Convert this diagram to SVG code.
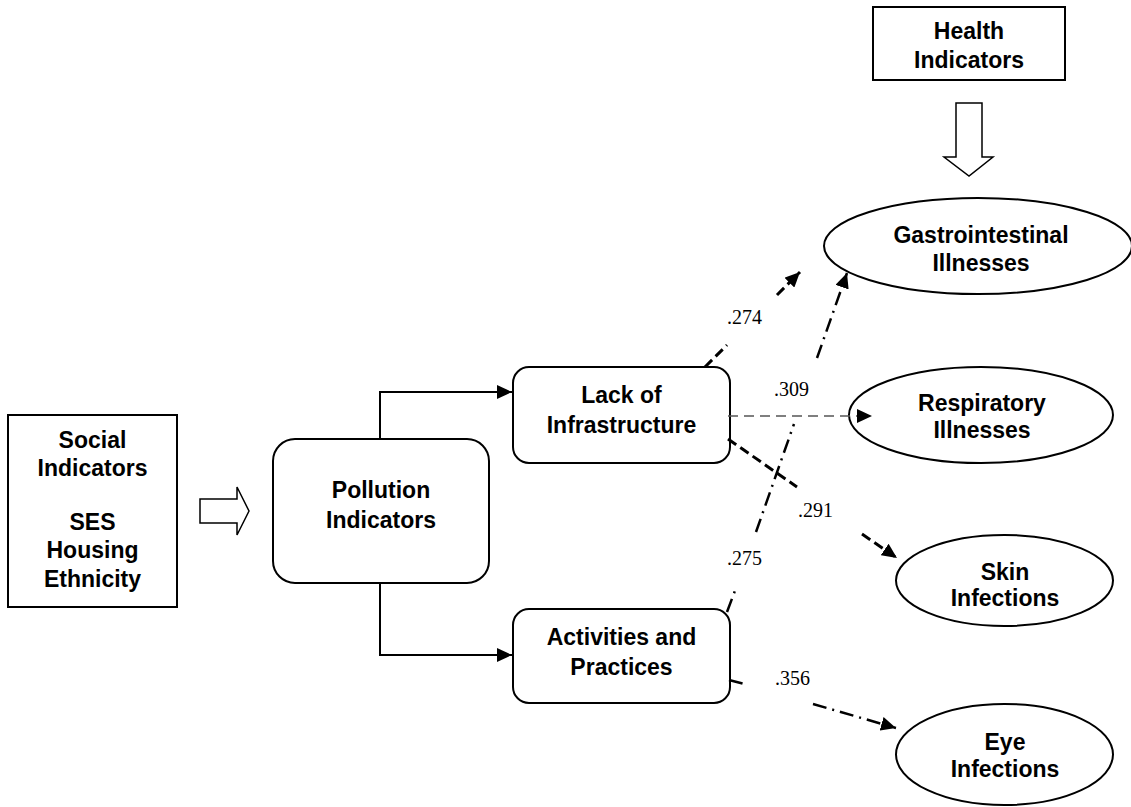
<svg xmlns="http://www.w3.org/2000/svg" width="1131" height="807" viewBox="0 0 1131 807">
<style>
  .box{fill:#fff;stroke:#000;stroke-width:2}
  .lbl{font-family:"Liberation Sans",Arial,sans-serif;font-weight:bold;font-size:23px;fill:#000;text-anchor:middle}
  .num{font-family:"Liberation Serif","Times New Roman",serif;font-size:20px;fill:#000}
  .hollow{fill:#fff;stroke:#000;stroke-width:1.5;stroke-linejoin:miter}
  .solid{fill:none;stroke:#000;stroke-width:2}
  .dash{fill:none;stroke:#000;stroke-width:3;stroke-dasharray:10,5}
  .dashdot{fill:none;stroke:#000;stroke-width:2.5;stroke-dasharray:14,6,2,6}
  .thin{fill:none;stroke:#555;stroke-width:1.3;stroke-dasharray:10,6}
</style>
<defs>
  <marker id="ah" markerUnits="userSpaceOnUse" markerWidth="16" markerHeight="14" refX="15" refY="7" orient="auto">
    <path d="M0,0 L15,7 L0,14 z" fill="#000"/>
  </marker>
</defs>
<rect width="1131" height="807" fill="#fff"/>

<g id="social">
  <rect class="box" x="8" y="415" width="169" height="192"/>
  <text class="lbl" x="92.5" y="448">Social</text>
  <text class="lbl" x="92.5" y="476">Indicators</text>
  <text class="lbl" x="92.5" y="530">SES</text>
  <text class="lbl" x="92.5" y="558">Housing</text>
  <text class="lbl" x="92.5" y="587">Ethnicity</text>
</g>

<g id="social-arrow">
  <polygon class="hollow" points="200,499 237,499 237,487 249,511 237,535 237,523 200,523"/>
</g>

<g id="pollution">
  <rect class="box" x="273" y="439" width="216" height="144" rx="22" ry="22"/>
  <text class="lbl" x="381" y="498">Pollution</text>
  <text class="lbl" x="381" y="528">Indicators</text>
</g>

<g id="lack">
  <rect class="box" x="513" y="367" width="217" height="96" rx="16" ry="16"/>
  <text class="lbl" x="621.5" y="403">Lack of</text>
  <text class="lbl" x="621.5" y="433">Infrastructure</text>
</g>

<g id="activities">
  <rect class="box" x="513" y="609" width="217" height="94" rx="16" ry="16"/>
  <text class="lbl" x="621.5" y="645">Activities and</text>
  <text class="lbl" x="621.5" y="675">Practices</text>
</g>

<g id="health">
  <rect class="box" x="873" y="7" width="192" height="73"/>
  <text class="lbl" x="969" y="39">Health</text>
  <text class="lbl" x="969" y="68">Indicators</text>
</g>

<g id="health-arrow">
  <polygon class="hollow" points="956,103 982,103 982,157 993,157 969,176 944,157 956,157"/>
</g>

<g id="gastro">
  <ellipse class="box" cx="978" cy="246" rx="154" ry="48"/>
  <text class="lbl" x="981" y="243">Gastrointestinal</text>
  <text class="lbl" x="981" y="271">Illnesses</text>
</g>

<g id="respiratory">
  <ellipse class="box" cx="981" cy="415" rx="132" ry="48"/>
  <text class="lbl" x="982" y="411">Respiratory</text>
  <text class="lbl" x="982" y="438">Illnesses</text>
</g>

<g id="skin">
  <ellipse class="box" cx="1004.5" cy="580.5" rx="108.5" ry="45.5"/>
  <text class="lbl" x="1005" y="580">Skin</text>
  <text class="lbl" x="1005" y="606">Infections</text>
</g>

<g id="eye">
  <ellipse class="box" cx="1004.5" cy="754.5" rx="108.5" ry="50.5"/>
  <text class="lbl" x="1005" y="750">Eye</text>
  <text class="lbl" x="1005" y="777">Infections</text>
</g>

<g id="connectors">
  <path class="solid" d="M380,439 V392 H512" marker-end="url(#ah)"/>
  <path class="solid" d="M380,583 V655 H512" marker-end="url(#ah)"/>
  <path class="dash" d="M705,367 L727,345 M777,295 L800,272" marker-end="url(#ah)"/>
  <path class="dashdot" d="M727,612 L736,588 M756,532 L794,424 M817,358 L847,273" marker-end="url(#ah)"/>
  <path class="thin" d="M728,416 H872" marker-end="url(#ah)"/>
  <path class="dash" d="M728,439 L797,487 M862,534 L897,558" marker-end="url(#ah)"/>
  <path class="dashdot" d="M729,680 L748,685 M813,704 L896,728" marker-end="url(#ah)"/>
</g>

<g id="labels">
  <text class="num" x="727" y="324">.274</text>
  <text class="num" x="774" y="396">.309</text>
  <text class="num" x="798" y="517">.291</text>
  <text class="num" x="727" y="565">.275</text>
  <text class="num" x="775" y="685">.356</text>
</g>
</svg>
